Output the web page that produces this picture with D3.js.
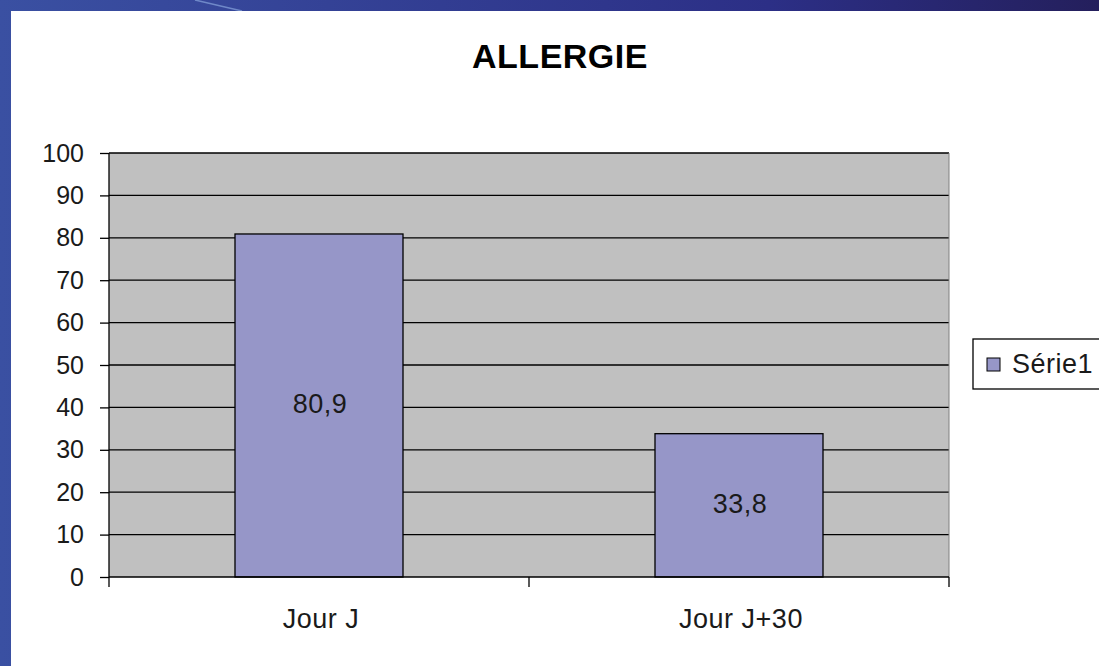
<!DOCTYPE html>
<html>
<head>
<meta charset="utf-8">
<script src="https://cdn.jsdelivr.net/npm/d3@7"></script>
<style>
  body { margin: 0; background: #fff; }
  svg { display: block; font-family: "Liberation Sans", Arial, sans-serif; }
</style>
</head>
<body>
<div id="chart"></div>
<script>
const categories = ['Jour J', 'Jour J+30'];
const values = [80.9, 33.8];
const labels = ['80,9', '33,8'];
const yTicks = [0, 10, 20, 30, 40, 50, 60, 70, 80, 90, 100];
const seriesName = 'Série1';

const W = 1099, H = 666;
const plot = {left: 109, top: 153, right: 949, bottom: 577};
const txt = '#1a1a1a';

const svg = d3.select('#chart').append('svg')
    .attr('width', W)
    .attr('height', H);

// slide background
const defs = svg.append('defs');
const grad = defs.append('linearGradient').attr('id', 'bg').attr('x1', 0).attr('x2', 1).attr('y1', 0).attr('y2', 0);
grad.append('stop').attr('offset', 0).attr('stop-color', '#3a50a2');
grad.append('stop').attr('offset', 0.7).attr('stop-color', '#2c2f86');
grad.append('stop').attr('offset', 1).attr('stop-color', '#241f5c');
svg.append('rect').attr('width', W).attr('height', H).attr('fill', 'url(#bg)');
svg.append('line').attr('x1', 195).attr('y1', 0).attr('x2', 242).attr('y2', 11)
    .attr('stroke', '#6f88c8').attr('stroke-width', 1.5);
svg.append('rect').attr('x', 11).attr('y', 11).attr('width', W - 11).attr('height', H - 11).attr('fill', '#fff');

var x = d3.scaleBand().domain(categories)
    .range([plot.left, plot.right])
    .paddingInner(0.6).paddingOuter(0.3);
var xCat = d3.scaleBand().domain(categories).range([plot.left, plot.right]);
var y = d3.scaleLinear().domain([0, 100]).range([plot.bottom, plot.top]);

svg.append('rect')
    .attr('x', plot.left).attr('y', plot.top)
    .attr('width', plot.right - plot.left).attr('height', plot.bottom - plot.top)
    .attr('fill', '#c0c0c0');

// gridlines
svg.append('g').selectAll('line')
    .data(yTicks.filter(d => d > 0))
    .enter().append('line')
    .attr('x1', plot.left).attr('x2', plot.right)
    .attr('y1', d => y(d)).attr('y2', d => y(d))
    .attr('stroke', '#000').attr('stroke-width', 1.3);

// right border of plot
svg.append('line')
    .attr('x1', plot.right).attr('x2', plot.right)
    .attr('y1', plot.top).attr('y2', plot.bottom)
    .attr('stroke', '#808080').attr('stroke-width', 1);

// bars
svg.append('g').selectAll('rect')
    .data(values)
    .enter().append('rect')
    .attr('x', (d, i) => x(categories[i]))
    .attr('y', d => y(d))
    .attr('width', x.bandwidth())
    .attr('height', d => plot.bottom - y(d))
    .attr('fill', '#9696c8')
    .attr('stroke', '#000').attr('stroke-width', 1.3);

svg.append('g').selectAll('text')
    .data(values)
    .enter().append('text')
    .attr('x', (d, i) => x(categories[i]) + x.bandwidth() / 2 + 1)
    .attr('y', d => (y(d) + plot.bottom) / 2 + 8)
    .attr('text-anchor', 'middle')
    .attr('font-size', '27px')
    .attr('letter-spacing', '0.5px')
    .attr('fill', txt)
    .text((d, i) => labels[i]);

// y axis
var yAxis = d3.axisLeft(y).tickValues(yTicks).tickSize(9).tickPadding(16);
var gy = svg.append('g')
    .attr('transform', 'translate(' + plot.left + ',0)')
    .call(yAxis);
gy.select('.domain').attr('stroke', '#000').attr('stroke-width', 1.3).attr('d', 'M0,' + plot.top + 'V' + plot.bottom);
gy.selectAll('.tick line').attr('stroke', '#000').attr('stroke-width', 1.3);
gy.selectAll('.tick text')
    .attr('font-size', '25px')
    .attr('font-family', '"Liberation Sans", Arial, sans-serif')
    .attr('fill', txt);

// x axis
var gx = svg.append('g')
    .attr('transform', 'translate(0,' + plot.bottom + ')');
gx.append('line')
    .attr('x1', plot.left).attr('x2', plot.right)
    .attr('stroke', '#000').attr('stroke-width', 1.3);
gx.selectAll('.xt')
    .data([plot.left].concat(categories.map(c => xCat(c) + xCat.bandwidth())))
    .enter().append('line')
    .attr('x1', d => d).attr('x2', d => d)
    .attr('y1', 0).attr('y2', 10)
    .attr('stroke', '#000').attr('stroke-width', 1.3);
gx.selectAll('text')
    .data(categories)
    .enter().append('text')
    .attr('x', d => xCat(d) + xCat.bandwidth() / 2 + 2)
    .attr('y', 51)
    .attr('text-anchor', 'middle')
    .attr('font-size', '27px')
    .attr('letter-spacing', '0.5px')
    .attr('fill', txt)
    .text(d => d);

// title
svg.append('text')
    .attr('x', 560).attr('y', 68)
    .attr('text-anchor', 'middle')
    .attr('font-size', '34px')
    .attr('font-weight', 'bold')
    .attr('letter-spacing', '0.5px')
    .attr('fill', '#000')
    .text('ALLERGIE');

// legend
var lg = svg.append('g').attr('transform', 'translate(973,339)');
lg.append('rect').attr('width', 140).attr('height', 50)
    .attr('fill', '#fff').attr('stroke', '#000').attr('stroke-width', 1.3);
lg.append('rect').attr('x', 14).attr('y', 19).attr('width', 13).attr('height', 13)
    .attr('fill', '#9696c8').attr('stroke', '#000').attr('stroke-width', 1);
lg.append('text').attr('x', 39).attr('y', 34)
    .attr('font-size', '27px')
    .attr('letter-spacing', '0.5px')
    .attr('fill', txt)
    .text(seriesName);
</script>
</body>
</html>
